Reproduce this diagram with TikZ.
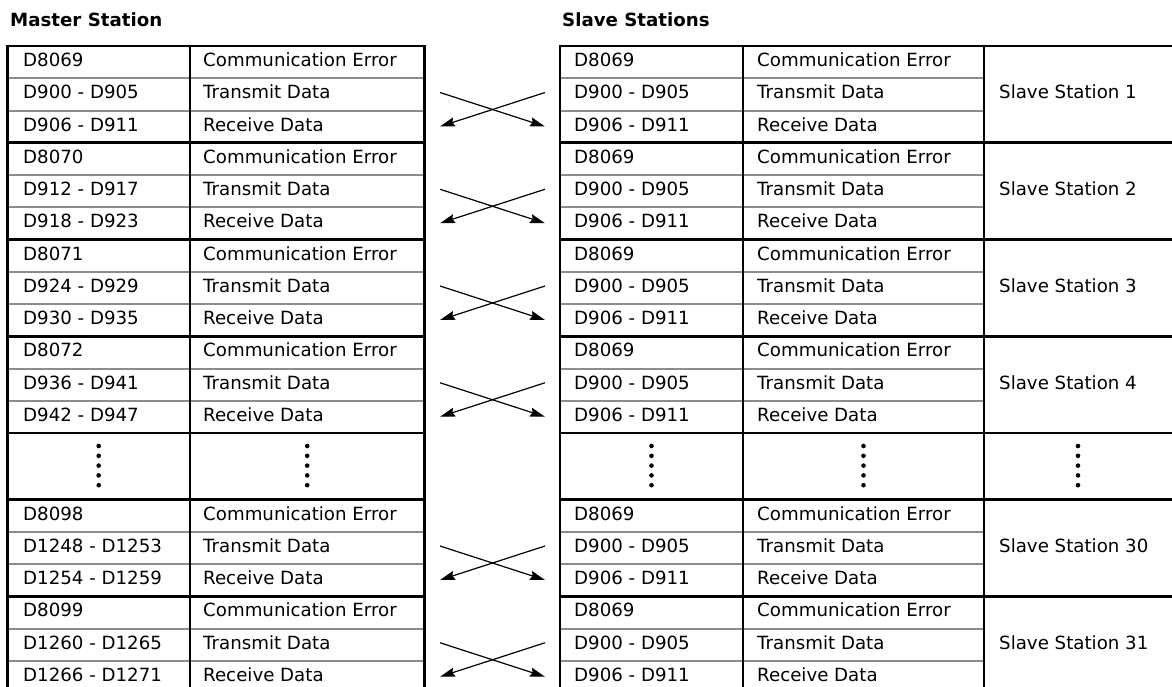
\documentclass[tikz,border=0pt]{standalone}
\usepackage{fontspec}
\setmainfont{DejaVu Sans}
\usetikzlibrary{arrows.meta}
\begin{document}
\begin{tikzpicture}[x=1pt,y=-1pt,font=\fontsize{18.2}{22}\selectfont]
  \tikzset{
    grid/.style={draw=black,line width=2.8pt,line cap=rect},
    rowline/.style={draw=black!45,line width=2pt},
    cell/.style={anchor=base west,inner sep=0pt},
    title/.style={font=\fontsize{18.2}{22}\selectfont\bfseries,anchor=base west,inner sep=0pt},
    link/.style={draw=black,line width=1.2pt,-{Stealth[length=15pt,width=9pt,inset=2pt]}}
  }
  \useasboundingbox (0,0) rectangle (1172,686);

  % Headings above the two tables.
  \node[title] (master) at (10,26) {Master Station};
  \node[title] (slaves) at (562,26) {Slave Stations};

  % One three-row block per link: top edge, error flag, send and receive ranges.
  \foreach \n/\ty/\err/\send/\recv in {
      1/46/D8069/D900 - D905/D906 - D911,
      2/142.75/D8070/D912 - D917/D918 - D923,
      3/239.5/D8071/D924 - D929/D930 - D935,
      4/336.25/D8072/D936 - D941/D942 - D947,
      30/499.5/D8098/D1248 - D1253/D1254 - D1259,
      31/596.25/D8099/D1260 - D1265/D1266 - D1271} {
    \draw[rowline] (7.3,{\ty+32.25}) -- (424.3,{\ty+32.25});
    \draw[rowline] (7.3,{\ty+64.5}) -- (424.3,{\ty+64.5});
    \draw[rowline] (560,{\ty+32.25}) -- (984,{\ty+32.25});
    \draw[rowline] (560,{\ty+64.5}) -- (984,{\ty+64.5});
    \draw[grid] (7.3,\ty) -- (424.3,\ty);
    \draw[grid] (560,\ty) -- (1172,\ty);
    \node[cell] (merr\n) at (23,{\ty+20.7}) {\err};
    \node[cell] (mcerr\n) at (203,{\ty+20.7}) {Communication Error};
    \node[cell] (msend\n) at (23,{\ty+52.95}) {\send};
    \node[cell] (mcsend\n) at (203,{\ty+52.95}) {Transmit Data};
    \node[cell] (mrecv\n) at (23,{\ty+85.2}) {\recv};
    \node[cell] (mcrecv\n) at (203,{\ty+85.2}) {Receive Data};
    \node[cell] (serr\n) at (574,{\ty+20.7}) {D8069};
    \node[cell] (scerr\n) at (757,{\ty+20.7}) {Communication Error};
    \node[cell] (ssend\n) at (574,{\ty+52.95}) {D900 - D905};
    \node[cell] (scsend\n) at (757,{\ty+52.95}) {Transmit Data};
    \node[cell] (srecv\n) at (574,{\ty+85.2}) {D906 - D911};
    \node[cell] (screcv\n) at (757,{\ty+85.2}) {Receive Data};
    \node[cell] (sname\n) at (999,{\ty+52.95}) {Slave Station \n};
    % crossed transmit/receive links
    \coordinate (mout\n) at (440,{\ty+46.5});
    \coordinate (min\n) at (440,{\ty+80.5});
    \coordinate (sout\n) at (545,{\ty+46.5});
    \coordinate (sin\n) at (545,{\ty+80.5});
    \draw[link] (mout\n) -- (sin\n);
    \draw[link] (sout\n) -- (min\n);
  }

  % Row of dots standing for the skipped stations.
  \draw[grid] (7.3,433) -- (424.3,433);
  \draw[grid] (560,433) -- (1172,433);
  \foreach \x in {98.7,307.2,651.5,863.5,1078}
    \foreach \k in {0,...,4}
      \fill (\x,{446+9.8*\k}) circle (2.3pt);

  % Column rules of both tables.
  \foreach \x in {7.3,190,424.3,560,743,984}
    \draw[grid] (\x,46) -- (\x,700);
\end{tikzpicture}
\end{document}
